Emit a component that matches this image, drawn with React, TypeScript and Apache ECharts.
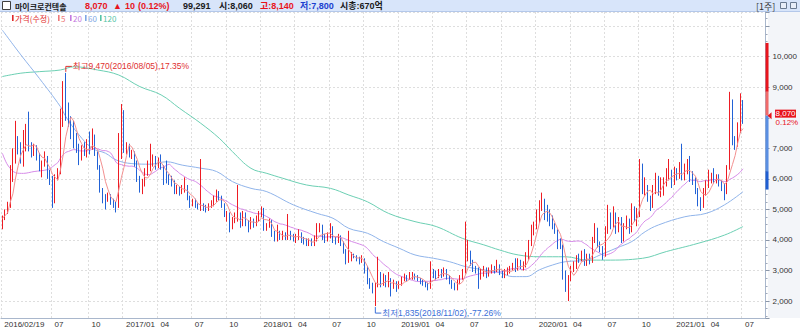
import React, { useEffect, useRef } from "react";
import * as echarts from "echarts";

// [open, close, low, high] weekly candles, week ending Friday, from 2016/02/19
const candles2016: number[][] = [
  [4400, 4700, 4350, 4800], [4700, 4900, 4650, 5000], [4900, 5050, 4850, 5250], [5100, 6300, 5050, 6450],
  [6300, 6600, 5900, 7000], [6600, 7300, 6500, 7900], [7300, 6900, 6800, 7400], [6900, 6800, 6500, 7200],
  [6800, 7200, 6400, 7600], [7200, 7400, 6900, 7800], [7400, 7100, 6900, 8200], [7100, 6850, 6700, 7200],
  [6850, 7050, 6750, 7150], [7050, 6800, 6600, 7100], [6800, 6350, 6250, 6850], [6350, 6500, 6050, 6600],
  [6500, 6700, 6400, 6900], [6700, 6200, 6000, 6750], [6200, 6050, 5800, 6300], [6050, 5250, 5050, 6100],
  [5250, 6050, 5200, 6150], [6050, 6250, 5950, 6350], [6250, 7950, 6150, 8300], [7950, 8400, 7700, 9200],
  [8450, 8250, 7900, 9470], [8250, 7900, 7700, 8500], [7900, 7600, 7300, 8050], [7600, 7300, 7000, 7900],
  [7300, 7050, 6850, 7500], [7050, 6750, 6450, 7150], [6750, 7050, 6600, 7100], [7050, 6800, 6750, 7200],
  [6800, 7150, 6700, 7300], [7150, 7050, 6800, 7550], [7050, 7400, 6950, 7650], [7400, 6800, 6750, 7450],
  [6800, 6400, 6300, 6900], [6400, 5650, 5550, 6450], [5650, 5400, 5200, 5700], [5400, 5300, 5000, 5500],
  [5300, 5450, 5250, 5550], [5450, 5250, 5150, 5500], [5250, 5150, 5050, 5350], [5150, 5100, 4900, 5250],
  [5100, 7200, 5050, 7500], [7200, 7500, 6650, 8450],
];
const candles2017: number[][] = [
  [7500, 6950, 6850, 8250], [6950, 7100, 6800, 7200], [7100, 6800, 6700, 7150], [6800, 6850, 6650, 6950],
  [6850, 6500, 6400, 6900], [6500, 5950, 5900, 6600], [5950, 5700, 5550, 6100], [5700, 5850, 5500, 6000],
  [5850, 6200, 5750, 6350], [6200, 6450, 6100, 6600], [6450, 6550, 6250, 7150], [6550, 6700, 6400, 6800],
  [6700, 6450, 6300, 6750], [6450, 6600, 6350, 6700], [6650, 6400, 6300, 6800], [6400, 5900, 5800, 6450],
  [6100, 6000, 5850, 6600], [6000, 5950, 5800, 6150], [5950, 5900, 5750, 6100], [5900, 5600, 5500, 5950],
  [5650, 5700, 5500, 5800], [5700, 5550, 5450, 5750], [5550, 5650, 5500, 5800], [5650, 5750, 5550, 6050],
  [5750, 5400, 5300, 5800], [5400, 5150, 5050, 5450], [5150, 5250, 5100, 5350], [5250, 5100, 5050, 5350],
  [5150, 5050, 5000, 5200], [5050, 5150, 4950, 6650], [5150, 5050, 4950, 5200], [5050, 5000, 4900, 5150],
  [5000, 5100, 4950, 5200], [5100, 5200, 5050, 5300], [5200, 5350, 5100, 5450], [5350, 5500, 5250, 5650],
  [5500, 5400, 5300, 5600], [5400, 5150, 5050, 5450], [5150, 4900, 4750, 5200], [4700, 4850, 4600, 4950],
  [4850, 4400, 4250, 4900], [4400, 4650, 4350, 4750], [4650, 4800, 4550, 4900], [4800, 4850, 4600, 5800],
  [4850, 4500, 4400, 4900], [4500, 4850, 4450, 4950], [4850, 4550, 4450, 4900], [4550, 4400, 4250, 4650],
  [4400, 4650, 4350, 4750], [4650, 4500, 4400, 4700], [4500, 4700, 4450, 4800], [4700, 4800, 4600, 4950],
];
const candles2018: number[][] = [
  [4800, 5000, 4750, 5100], [5000, 4350, 4300, 5050], [4400, 4450, 4300, 4550], [4450, 4550, 4400, 4700],
  [4550, 4200, 4100, 4650], [4200, 4000, 3950, 4300], [4000, 4200, 3950, 4500], [4200, 4100, 4000, 4300],
  [4100, 4200, 4000, 4300], [4200, 4100, 4000, 4250], [4100, 4200, 4000, 4850], [4200, 4100, 4000, 4300],
  [4100, 4000, 3950, 4200], [4000, 4100, 3900, 4200], [4100, 4200, 4000, 4350], [4200, 4000, 3900, 4250],
  [4000, 3950, 3850, 4100], [3950, 3900, 3800, 4050], [3900, 3950, 3800, 4050], [3950, 3850, 3800, 4050],
  [3850, 4050, 3800, 4150], [4050, 4400, 3950, 4550], [4400, 4450, 4250, 4550], [4450, 4100, 4000, 4500],
  [4100, 4000, 3900, 4200], [4000, 4150, 3950, 4250], [4150, 4400, 4050, 4550], [4400, 4000, 3900, 4450],
  [4000, 3950, 3850, 4100], [3950, 4100, 3900, 4200], [4100, 3900, 3800, 4150], [3900, 3650, 3550, 3950],
  [3650, 3300, 3200, 3700], [3300, 3400, 3250, 4300], [3400, 3500, 3300, 3600], [3500, 3450, 3400, 3550],
  [3450, 3400, 3300, 3500], [3400, 3300, 3200, 3450], [3300, 3350, 3250, 3500], [3350, 3000, 2900, 3400],
  [3000, 2650, 2550, 3150], [2650, 2500, 2400, 2750], [2500, 2350, 2250, 2600], [2350, 2500, 1835, 2600],
  [2500, 2800, 2450, 3450], [2800, 2550, 2450, 2950], [2600, 2750, 2500, 2900], [2800, 2550, 2450, 2850],
  [2550, 2700, 2450, 2950], [2700, 2400, 2150, 2750], [2450, 2600, 2400, 2700], [2500, 2450, 2300, 2650],
];
const candles2019: number[][] = [
  [2450, 2550, 2400, 2650], [2550, 2700, 2500, 2800], [2700, 2800, 2650, 2900], [2800, 2750, 2650, 2850],
  [2750, 2800, 2700, 2950], [2800, 2850, 2700, 2950], [2850, 2800, 2700, 2900], [2800, 2700, 2650, 2850],
  [2700, 2650, 2550, 2750], [2650, 2550, 2500, 2700], [2550, 2500, 2450, 2650], [2500, 2450, 2350, 2600],
  [2450, 2950, 2400, 3300], [2950, 2900, 2750, 3050], [2900, 2800, 2700, 3000], [2800, 2950, 2750, 3050],
  [2950, 2850, 2750, 3050], [2850, 3000, 2800, 3100], [3000, 2800, 2700, 3050], [2800, 2600, 2550, 2850],
  [2600, 2450, 2400, 2700], [2450, 2400, 2350, 2600], [2400, 2600, 2350, 2700], [2600, 2750, 2550, 2850],
  [2750, 2950, 2700, 3050], [2950, 3500, 2900, 4600], [3500, 3550, 3300, 4000], [3550, 3250, 3150, 3650],
  [3250, 3050, 2950, 3350], [3050, 3000, 2900, 3150], [3050, 2850, 2400, 3100], [2850, 3000, 2700, 3050],
  [2950, 3050, 2800, 3150], [3050, 2850, 2750, 3100], [2850, 3000, 2800, 3100], [3000, 3100, 2900, 3200],
  [3100, 3000, 2900, 3150], [3000, 3200, 2950, 3350], [3150, 2950, 2850, 3200], [2950, 2800, 2750, 3000],
  [2800, 2950, 2750, 3050], [2950, 3000, 2850, 3100], [3000, 3100, 2900, 3150], [3050, 3150, 3000, 3250],
  [3150, 3050, 2950, 3400], [3050, 3250, 3000, 3400], [3250, 3100, 3050, 3350], [3100, 3150, 3000, 3300],
  [3150, 3350, 3100, 3600], [3400, 3900, 3350, 4000], [3900, 4350, 3800, 4500], [4350, 4500, 4150, 4600],
];
const candles2020: number[][] = [
  [4450, 4850, 4350, 5000], [4800, 5100, 4550, 5300], [5100, 5300, 4950, 5550], [5250, 4750, 4650, 5350],
  [4800, 4700, 4600, 5150], [4950, 4550, 4450, 5000], [4700, 4400, 4350, 4800], [4400, 4300, 4200, 4550],
  [4300, 3800, 3700, 4350], [3900, 3850, 3700, 4050], [3800, 2850, 2700, 3850], [2850, 2400, 2300, 3000],
  [2150, 2750, 2000, 2850], [2750, 3050, 2650, 3150], [3050, 3150, 2950, 3300], [3150, 3400, 3050, 3500],
  [3400, 3350, 3250, 3550], [3350, 3500, 3300, 3650], [3500, 3200, 3150, 3700], [3250, 3450, 3150, 3550],
  [3450, 3300, 3200, 3550], [3300, 4000, 3250, 4100], [4000, 4300, 3900, 4550], [4300, 3850, 3750, 4400],
  [3850, 3700, 3600, 3950], [3700, 3500, 3350, 3800], [3550, 4350, 3450, 4450], [4350, 4800, 4200, 5150],
  [4800, 4450, 4350, 4900], [4450, 4800, 4400, 5100], [4800, 4300, 4200, 4900], [4300, 4650, 4250, 4750],
  [4650, 4050, 3900, 4750], [4050, 4450, 3950, 4550], [4450, 4600, 4350, 4800], [4600, 4300, 4200, 4700],
  [4300, 5050, 4250, 5200], [5050, 4700, 4600, 5100], [4600, 4950, 4450, 5050], [4900, 6300, 4750, 6650],
  [6300, 5600, 5500, 6500], [5550, 5800, 5450, 6050], [5700, 5350, 5250, 5800], [5350, 5100, 4950, 5450],
  [5150, 5650, 5050, 5800], [5600, 6000, 5500, 6200], [6000, 5550, 5450, 6100], [5600, 5900, 5400, 6050],
  [5550, 5950, 5450, 6050], [5950, 6250, 5750, 6350], [6050, 6300, 5950, 6650], [6200, 5900, 5700, 6300],
];
const candles2021: number[][] = [
  [5900, 6250, 5800, 6400], [6250, 6100, 5950, 6350], [6100, 6400, 6000, 6550], [6400, 6050, 5950, 7150],
  [6050, 6400, 5950, 6500], [6300, 6450, 6150, 6650], [6450, 6050, 5900, 6750], [6100, 5950, 5800, 6250],
  [5950, 5600, 5500, 6050], [5600, 5250, 5100, 5700], [5300, 5100, 4950, 5400], [5100, 5600, 5050, 5700],
  [5600, 5800, 5450, 5950], [5800, 6000, 5700, 6300], [6000, 6100, 5850, 6200], [6100, 5950, 5850, 6350],
  [5950, 6050, 5850, 6150], [6050, 5850, 5750, 6150], [5850, 5700, 5600, 5950], [5750, 5600, 5300, 5850],
  [5600, 6300, 5500, 6450], [6400, 7500, 6300, 8850], [7500, 7250, 7100, 8600], [7250, 7150, 6950, 7400],
  [7150, 7700, 7050, 7850], [7700, 8060, 7500, 8800], [8080, 8070, 7800, 8580],
];

// Moving-average lines (week index, value)
const ma20Lead: number[][] = [[0, 6840], [2, 6455], [5, 6200], [8, 6180], [12, 6240], [17, 6300]];
const ma60Points: number[][] = [
  [0, 10870], [7, 10060], [14, 9290], [22, 8360], [24, 8040], [29, 7440], [34, 7000], [39, 6840],
  [43, 6620], [49, 6500], [56, 6480], [62, 6560], [68, 6450], [75, 6350], [81, 6240], [87, 5910],
  [94, 5690], [100, 5580], [110, 5150], [119, 4870], [125, 4710], [131, 4380], [138, 4220], [144, 3950],
  [150, 3730], [156, 3510], [163, 3400], [169, 3290], [175, 3130], [182, 3020], [188, 2930], [193, 2800],
  [198, 2800], [203, 3020], [208, 3180], [213, 3290], [221, 3340], [226, 3510], [232, 3730], [238, 3950],
  [243, 4270], [248, 4490], [258, 4760], [266, 4870], [273, 5150], [280, 5580],
];
const ma120Points: number[][] = [
  [0, 9350], [7, 9460], [14, 9510], [22, 9565], [27, 9670], [36, 9565], [44, 9400], [52, 9020],
  [60, 8750], [67, 8310], [75, 7820], [82, 7330], [87, 6890], [94, 6345], [100, 6180], [106, 6020],
  [115, 5800], [124, 5690], [131, 5470], [138, 5250], [146, 4870], [156, 4600], [164, 4440], [174, 4050],
  [182, 3840], [188, 3670], [195, 3510], [203, 3450], [213, 3450], [221, 3340], [228, 3340], [242, 3400],
  [251, 3620], [263, 3890], [273, 4160], [280, 4440],
];

const highMark = { index: 24, value: 9470, text: "최고9,470(2016/08/05),17.35%" };
const lowMark = { index: 141, value: 1835, text: "최저1,835(2018/11/02),-77.26%" };
const lastPrice = 8070;
const lastChange = "0.12%";
const upperLimit = 10450;
const upperDark = 8850;
const lowerLight = 6250;
const lowerLimit = 5650;
const emptyWeeks = 8;

const headerTexts: { t: string; x: number; c: string; b?: boolean; cjk?: boolean }[] = [
  { t: "마이크로컨텍솔", x: 15, c: "#1a1a1a", b: true, cjk: true },
  { t: "8,070", x: 85, c: "#e8141c", b: true },
  { t: "▲", x: 113, c: "#e8141c" },
  { t: "10", x: 125, c: "#e8141c", b: true },
  { t: "(0.12%)", x: 138, c: "#e8141c", b: true },
  { t: "99,291", x: 183, c: "#1a1a1a", b: true },
  { t: "시:8,060", x: 219, c: "#1a1a1a", b: true },
  { t: "고:8,140", x: 260, c: "#e8141c", b: true },
  { t: "저:7,800", x: 300, c: "#1a3fd0", b: true },
  { t: "시총:670억", x: 340, c: "#1a1a1a", b: true },
];
const legendItems: { t: string; x: number; c: string }[] = [
  { t: "가격(수정)", x: 12, c: "#e02828" },
  { t: "5", x: 58, c: "#ee7a7a" },
  { t: "20", x: 70, c: "#c47ae0" },
  { t: "60", x: 85, c: "#7ea6e4" },
  { t: "120", x: 100, c: "#56c4a6" },
];

const UP = "#ee1c24";
const DOWN = "#2262d6";
const FONT_NUM = '"Liberation Sans", "Noto Sans CJK KR", sans-serif';

function pad(n: number) {
  return n < 10 ? "0" + n : "" + n;
}

export default function App() {
  const ref = useRef<HTMLDivElement>(null);

  useEffect(() => {
    if (!ref.current) return;
    const chart = echarts.init(ref.current, undefined, { renderer: "svg" });

    const candles = [...candles2016, ...candles2017, ...candles2018, ...candles2019, ...candles2020, ...candles2021];
    const closes = candles.map((c) => c[1]);
    const total = candles.length + emptyWeeks;
    const base = Date.UTC(2016, 1, 19);
    const dates: Date[] = [];
    for (let i = 0; i < total; i++) dates.push(new Date(base + i * 7 * 86400000));
    const cats = dates.map((d) => `${d.getUTCFullYear()}/${pad(d.getUTCMonth() + 1)}/${pad(d.getUTCDate())}`);
    const labelMap: Record<number, string> = {};
    dates.forEach((d, i) => {
      const m = d.getUTCMonth() + 1;
      if (i === 0) labelMap[i] = cats[0];
      else if (i > 12 && [1, 4, 7, 10].includes(m) && dates[i - 1].getUTCMonth() + 1 !== m) {
        labelMap[i] = m === 1 ? `${d.getUTCFullYear()}/01` : pad(m);
      }
    });
    const isLabel = (idx: number) => labelMap[idx] !== undefined;

    const ma5 = closes.map((_, i) => {
      const s = closes.slice(Math.max(0, i - 4), i + 1);
      return [i, Math.round(s.reduce((a, b) => a + b, 0) / s.length)];
    });
    const ma20: number[][] = [...ma20Lead];
    for (let i = 19; i < closes.length; i++) {
      const s = closes.slice(i - 19, i + 1);
      ma20.push([i, Math.round(s.reduce((a, b) => a + b, 0) / 20)]);
    }
    const lastIndex = candles.length - 1;

    const graphics: any[] = [
      { type: "rect", z: -10, shape: { x: 768, y: 12, width: 32, height: 306 }, style: { fill: "#f3f5f9" } },
      { type: "rect", shape: { x: 0, y: 0, width: 800, height: 11 }, style: { fill: "#d8e5fa" } },
      { type: "line", shape: { x1: 0, y1: 11.5, x2: 800, y2: 11.5 }, style: { stroke: "#b4c8ea", lineWidth: 1 } },
      { type: "rect", shape: { x: 2.5, y: 1.5, width: 8, height: 8 }, style: { fill: "#ffffff", stroke: "#404040", lineWidth: 1 } },
      { type: "text", x: 756, y: 6, style: { text: "[1주]", fill: "#333", font: '9px "Noto Sans CJK KR"', verticalAlign: "middle", textVerticalAlign: "middle" } },
      { type: "rect", shape: { x: 780.5, y: 2.5, width: 6, height: 6 }, style: { fill: "#e8eef8", stroke: "#6a7a90", lineWidth: 1 } },
      { type: "rect", shape: { x: 790.5, y: 2.5, width: 6, height: 6 }, style: { fill: "#e8eef8", stroke: "#6a7a90", lineWidth: 1 } },
    ];
    headerTexts.forEach((h) => {
      graphics.push({
        type: "text",
        x: h.x,
        y: 6,
        style: {
          text: h.t,
          fill: h.c,
          font: `${h.b ? "bold " : ""}${h.cjk ? "8px" : "9px"} ${h.cjk ? '"Noto Sans CJK KR"' : FONT_NUM}`,
          verticalAlign: "middle",
          textVerticalAlign: "middle",
        },
      });
    });
    legendItems.forEach((l) => {
      graphics.push({ type: "rect", shape: { x: l.x, y: 15, width: 1.6, height: 6 }, style: { fill: l.c } });
      graphics.push({
        type: "text",
        x: l.x + 3,
        y: 18.5,
        style: { text: l.t, fill: l.c, font: '8px "Noto Sans CJK KR", "Liberation Sans"', verticalAlign: "middle", textVerticalAlign: "middle" },
      });
    });

    const option: any = {
      animation: false,
      backgroundColor: "#ffffff",
      grid: { left: 1, right: 33, top: 12, bottom: 12 },
      graphic: graphics,
      xAxis: {
        type: "category",
        data: cats,
        boundaryGap: true,
        axisLine: { lineStyle: { color: "#a9b7cc" } },
        axisTick: { interval: (i: number) => isLabel(i), alignWithLabel: true, length: 3, lineStyle: { color: "#8a96a8" } },
        axisLabel: {
          interval: (i: number) => isLabel(i),
          formatter: (_v: string, i: number) => labelMap[i] || "",
          align: "left",
          padding: [0, 0, 0, 2],
          margin: 2,
          fontSize: 8,
          fontFamily: FONT_NUM,
          color: "#333",
          showMinLabel: true,
          hideOverlap: false,
        },
        splitLine: { show: true, interval: (i: number) => isLabel(i), lineStyle: { color: "#dedede", type: [2, 2] } },
      },
      yAxis: {
        type: "value",
        position: "right",
        min: 1445,
        max: 11463,
        splitNumber: 10,
        axisLine: { show: true, lineStyle: { color: "#a9b7cc" } },
        axisTick: { show: true, length: 4, lineStyle: { color: "#8a96a8" } },
        minorTick: { show: true, splitNumber: 4, length: 2, lineStyle: { color: "#a0aabb" } },
        axisLabel: {
          margin: 7,
          fontSize: 8,
          fontFamily: FONT_NUM,
          color: "#333",
          formatter: (v: number) => (v % 1000 === 0 && v <= 10000 && v !== 8000 ? v.toLocaleString("en-US") : ""),
        },
        splitLine: { show: true, lineStyle: { color: "#dedede", type: [2, 2] } },
      },
      series: [
        {
          type: "line",
          name: "120",
          data: ma120Points,
          smooth: 0.4,
          symbol: "none",
          lineStyle: { color: "#6ccfb3", width: 1 },
          z: 1,
        },
        {
          type: "line",
          name: "60",
          data: ma60Points,
          smooth: 0.4,
          symbol: "none",
          lineStyle: { color: "#90b4ea", width: 1 },
          z: 1,
        },
        {
          type: "line",
          name: "20",
          data: ma20,
          smooth: 0.3,
          symbol: "none",
          lineStyle: { color: "#d68be8", width: 1 },
          z: 1,
        },
        {
          type: "candlestick",
          name: "가격",
          data: candles,
          barWidth: 1.3,
          itemStyle: { color: UP, color0: DOWN, borderColor: UP, borderColor0: DOWN, borderWidth: 1 },
          z: 2,
        },
        {
          type: "line",
          name: "5",
          data: ma5,
          symbol: "none",
          lineStyle: { color: "#f29090", width: 1 },
          z: 3,
        },
        {
          type: "custom",
          clip: false,
          silent: true,
          z: 5,
          data: [[lastIndex, lastPrice]],
          encode: { x: 0, y: 1 },
          renderItem: (params: any, api: any) => {
            const cs = params.coordSys;
            const right = cs.x + cs.width;
            const hp = api.coord([highMark.index, highMark.value]);
            const lp = api.coord([lowMark.index, lowMark.value]);
            const py = api.coord([lastIndex, lastPrice])[1];
            const yU = api.coord([lastIndex, upperLimit])[1];
            const yUd = api.coord([lastIndex, upperDark])[1];
            const yLl = api.coord([lastIndex, lowerLight])[1];
            const yL = api.coord([lastIndex, lowerLimit])[1];
            const annFont = '8.5px "Liberation Sans", "Noto Sans CJK KR"';
            return {
              type: "group",
              children: [
                { type: "rect", shape: { x: right, y: yU, width: 3, height: yUd - yU }, style: { fill: "#e8141c" } },
                { type: "rect", shape: { x: right, y: yUd, width: 3, height: py - yUd }, style: { fill: "#f06a6a" } },
                { type: "rect", shape: { x: right, y: py, width: 3, height: yLl - py }, style: { fill: "#5a8fe2" } },
                { type: "rect", shape: { x: right, y: yLl, width: 3, height: yL - yLl }, style: { fill: "#1f5ed2" } },
                {
                  type: "polygon",
                  shape: { points: [[right + 2, py], [right + 6, py - 3.5], [right + 6, py + 3.5]] },
                  style: { fill: "#e8141c" },
                },
                { type: "rect", shape: { x: right + 9.5, y: py - 6, width: 21, height: 8 }, style: { fill: "#e8141c" } },
                {
                  type: "text",
                  x: right + 20,
                  y: py - 2,
                  style: { text: "8,070", fill: "#ffffff", font: `8px ${FONT_NUM}`, align: "center", textAlign: "center", verticalAlign: "middle", textVerticalAlign: "middle" },
                },
                {
                  type: "text",
                  x: right + 10,
                  y: py + 7,
                  style: { text: lastChange, fill: "#e8141c", font: `8px ${FONT_NUM}`, verticalAlign: "middle", textVerticalAlign: "middle" },
                },
                {
                  type: "polyline",
                  shape: { points: [[hp[0], hp[1] - 1], [hp[0], hp[1] - 6.5], [hp[0] + 6, hp[1] - 6.5]] },
                  style: { stroke: "#e03030", lineWidth: 1, fill: "none" },
                },
                {
                  type: "text",
                  x: hp[0] + 7,
                  y: hp[1] - 6.5,
                  style: { text: highMark.text, fill: "#e03030", font: annFont, verticalAlign: "middle", textVerticalAlign: "middle" },
                },
                {
                  type: "polyline",
                  shape: { points: [[lp[0], lp[1] + 1], [lp[0], lp[1] + 7], [lp[0] + 6, lp[1] + 7]] },
                  style: { stroke: "#3a6fd8", lineWidth: 1, fill: "none" },
                },
                {
                  type: "text",
                  x: lp[0] + 7,
                  y: lp[1] + 7,
                  style: { text: lowMark.text, fill: "#3a6fd8", font: annFont, verticalAlign: "middle", textVerticalAlign: "middle" },
                },
              ],
            };
          },
        },
      ],
    };
    chart.setOption(option);
    return () => chart.dispose();
  }, []);

  return <div ref={ref} style={{ position: "fixed", left: 0, top: 0, width: 800, height: 330 }} />;
}
